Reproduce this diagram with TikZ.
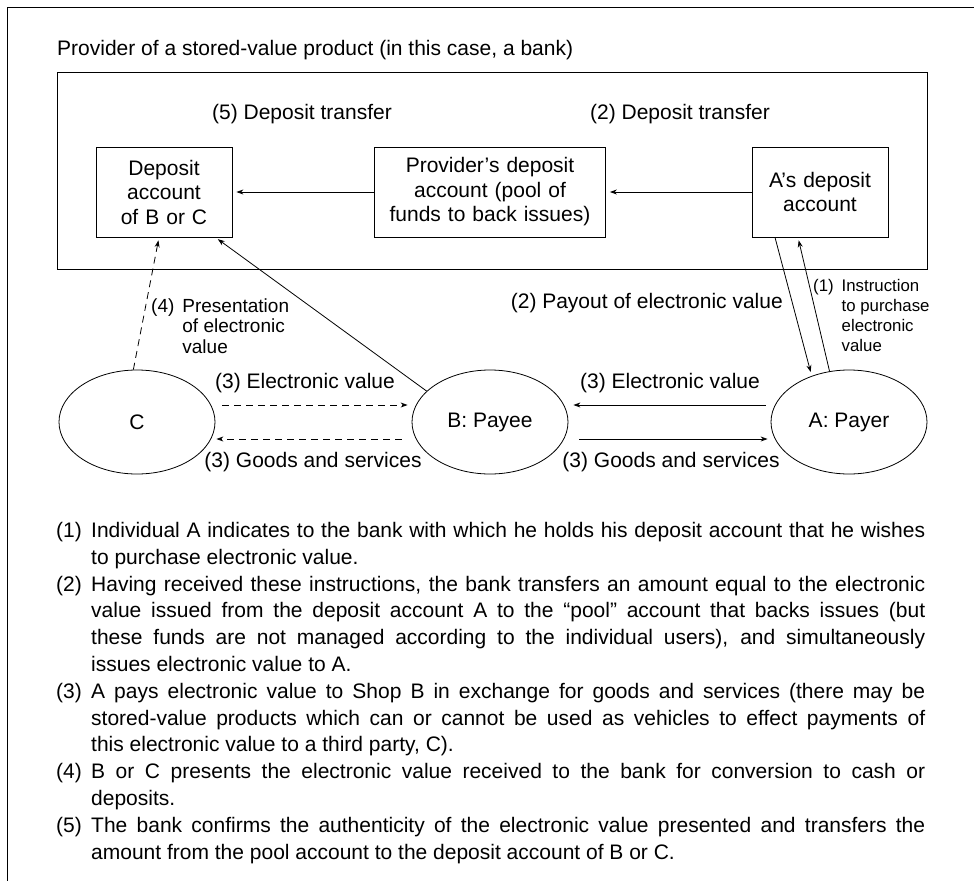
\documentclass[tikz,border=0pt]{standalone}
\usepackage{fontspec}
\setmainfont{Liberation Sans}
\usetikzlibrary{shapes,arrows.meta,positioning}

\begin{document}
\begin{tikzpicture}[%
    x=1pt, y=-1pt,              % one unit per pixel, y runs down the page
    >={Stealth[length=7pt,width=5pt]}, % small filled heads
    node distance=326pt,        % centre to centre, boxes are on grid
    font=\fontsize{21}{24.5}\selectfont,
    ]
% -------------------------------------------------
% A few box styles
\tikzset{
  base/.style={draw, on grid, align=center, inner sep=0pt, line width=0.8pt},
  acct/.style={base, minimum height=90pt, text width=136pt},
  poolbox/.style={base, minimum height=90pt, text width=231pt},
  party/.style={base, ellipse, minimum width=156pt, minimum height=104pt},
  % Connector line styles
  flow/.style={->, line width=0.8pt},
  dflow/.style={flow, dash pattern=on 7pt off 5pt},
  lbl/.style={inner sep=0pt},
  midnote/.style={inner sep=0pt, font=\fontsize{19}{20.5}\selectfont},
  smallnote/.style={inner sep=0pt, font=\fontsize{16.8}{20}\selectfont}
}
\useasboundingbox (0,0) rectangle (974,881);
\draw[line width=1pt] (974,7) -- (7,7) -- (7,881);
% -------------------------------------------------
% The bank and its accounts
\node [lbl, anchor=west] (title) at (57,50) {Provider of a stored-value product (in this case, a bank)};
\node [draw, line width=0.8pt, inner sep=0pt, minimum width=870pt, minimum height=197pt] (bank) at (492,170.5) {};

\node [acct] (depbc) at (164,192) {Deposit\\account\\of B or C};
\node [poolbox, right=of depbc] (poolacct) {Provider’s deposit\\account (pool of\\funds to back issues)};
\node [acct, right=330pt of poolacct] (acctA) {A’s deposit\\account};

\node [lbl] (tr5) at (302,114) {(5) Deposit transfer};
\node [lbl] (tr2) at (680,114) {(2) Deposit transfer};

% -------------------------------------------------
% The three parties
\node [party, below=230pt of poolacct] (payee) {B: Payee};
\node [party, left=353pt of payee] (partyC) {C};
\node [party, right=359pt of payee] (payer) {A: Payer};

\draw[flow, shorten >=4pt] (poolacct) -- (depbc);		%pool to B or C
\draw[flow, shorten >=4pt] (acctA) -- (poolacct);		%A to pool
\draw[flow, shorten >=4pt] ([xshift=-45pt]acctA.south) -- (payer.129);		%payout
\draw[flow, shorten >=3pt] (payer.111) -- ([xshift=-22pt]acctA.south);		%instruction
\draw[dflow, shorten >=3pt] (partyC.94) -- ([xshift=-5pt]depbc.south);		%C presents
\draw[flow, shorten >=3pt] (payee.154) -- ([xshift=-17pt]depbc.south east);		%B presents

\draw[dflow] ([xshift=7pt,yshift=17pt]partyC.east) -- ([xshift=-4pt,yshift=17pt]payee.west);
\draw[dflow] ([xshift=-10pt,yshift=-17pt]payee.west) -- ([xshift=1pt,yshift=-17pt]partyC.east);
\draw[flow] ([xshift=-5pt,yshift=17pt]payer.west) -- ([xshift=5pt,yshift=17pt]payee.east);
\draw[flow] ([xshift=11pt,yshift=-17pt]payee.east) -- ([xshift=-3pt,yshift=-17pt]payer.west);

\node [lbl] (evl) at (305,383) {(3) Electronic value};
\node [lbl] (evr) at (670,383) {(3) Electronic value};
\node [lbl] (gsl) at (313,462) {(3) Goods and services};
\node [lbl] (gsr) at (671,462) {(3) Goods and services};
\node [lbl, anchor=east] (payout) at (783,303) {(2) Payout of electronic value};
\node [midnote, anchor=base west] (present) at (151,312)
  {\begin{tabular}[t]{@{}l@{\hspace{8pt}}l@{}}(4)&Presentation\\&of electronic\\&value\end{tabular}};
\node [smallnote, anchor=base west] (instr) at (813,291)
  {\begin{tabular}[t]{@{}l@{\hspace{8pt}}l@{}}(1)&Instruction\\&to purchase\\&electronic\\&value\end{tabular}};

% -------------------------------------------------
% Notes under the diagram
\node [inner sep=0pt, anchor=base west, text width=869pt, align=justify,
       font=\fontsize{21}{26.8}\selectfont] (notes) at (56,537.5) {%
\parindent=0pt
\hangindent=35pt\hangafter=1\makebox[35pt][l]{(1)}Individual A indicates to the bank with which he holds his deposit account that he wishes\linebreak
to purchase electronic value.\par
\hangindent=35pt\hangafter=1\makebox[35pt][l]{(2)}Having received these instructions, the bank transfers an amount equal to the electronic\linebreak
value issued from the deposit account A to the “pool” account that backs issues (but\linebreak
these funds are not managed according to the individual users), and simultaneously\linebreak
issues electronic value to A.\par
\hangindent=35pt\hangafter=1\makebox[35pt][l]{(3)}A pays electronic value to Shop B in exchange for goods and services (there may be\linebreak
stored-value products which can or cannot be used as vehicles to effect payments of\linebreak
this electronic value to a third party, C).\par
\hangindent=35pt\hangafter=1\makebox[35pt][l]{(4)}B or C presents the electronic value received to the bank for conversion to cash or\linebreak
deposits.\par
\hangindent=35pt\hangafter=1\makebox[35pt][l]{(5)}The bank confirms the authenticity of the electronic value presented and transfers the\linebreak
amount from the pool account to the deposit account of B or C.\par};

% -------------------------------------------------
\end{tikzpicture}
\end{document}
